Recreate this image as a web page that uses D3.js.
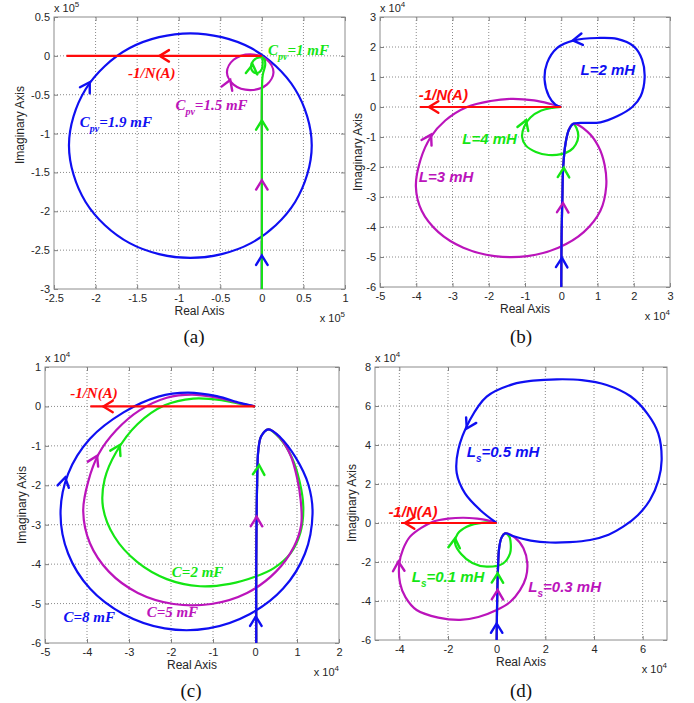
<!DOCTYPE html>
<html>
<head>
<meta charset="utf-8">
<script src="https://cdn.jsdelivr.net/npm/d3@7"></script>
<style>body{margin:0;background:#fff}</style>
</head>
<body>
<svg id="fig" width="694" height="703"></svg>
<script>
	"use strict";
	// colours
	var BLUE = '#0f0ff2', MAG = '#bb14bb', GRN = '#14e614', RED = '#ff0a0a';
	var SERIF = '"Liberation Serif","Times New Roman",serif';
	var SANS = '"Liberation Sans",Arial,sans-serif';

	// ---------- (a) : units of 1e5 ----------
	var aXTicks = [-2.5, -2, -1.5, -1, -0.5, 0, 0.5, 1];
	var aYTicks = [-3, -2.5, -2, -1.5, -1, -0.5, 0, 0.5];
	var aBlueTail = [[0,-3],[0,-2.38]];
	var aBlueLoop = [[0.6,-1.15],[0.4,-0.43],[-0.13,0.1],[-0.86,0.29],[-1.59,0.1],[-2.12,-0.43],[-2.32,-1.15],
		[-2.12,-1.88],[-1.59,-2.41],[-0.86,-2.6],[-0.13,-2.41],[0.4,-1.88]];
	var aMagTail = [[0,-3],[0,-0.44]];
	var aMagLoop = [[0.14,-0.21],[0.06,-0.05],[-0.14,0.02],[-0.34,-0.05],[-0.42,-0.21],[-0.34,-0.37],[-0.14,-0.44],[0.06,-0.37]];
	var aGreen = [[0,-3],[0,-1.5],[0,-0.5],[0.01,-0.25],[0.04,-0.12],[0.03,-0.04],[-0.03,-0.02],[-0.1,-0.06],
		[-0.13,-0.13],[-0.11,-0.2],[-0.05,-0.22],[0,-0.17],[0.01,-0.08],[0,0]];
	var aRed = [[0,0],[-2.35,0]];
	var aBlueArrows = [[0,-2.57,0,-2.75],[-2.07,-0.34,-2.15,-0.48]];
	var aMagArrows = [[0,-1.6,0,-1.78],[-0.38,-0.31,-0.42,-0.42]];
	var aGreenArrows = [[0,-0.83,0,-1.0],[-0.11,-0.11,-0.12,-0.2]];
	var aRedArrows = [[-1.23,0,-1.05,0]];
	var aLabelGreen = ['C','pv','=1 mF',0.075,0.01];
	var aLabelMag = ['C','pv','=1.5 mF',-1.04,-0.7];
	var aLabelBlue = ['C','pv','=1.9 mF',-2.19,-0.92];
	var aLabelRed = ['-1/N(A)','','',-1.61,-0.285];

	// ---------- (b) : units of 1e4 ----------
	var bXTicks = [-5, -4, -3, -2, -1, 0, 1, 2, 3];
	var bYTicks = [-6, -5, -4, -3, -2, -1, 0, 1, 2, 3];
	var bStem = [[0,-6],[0.01,-4.2],[0.03,-3.09],[0.055,-1.98],[0.12,-1.2],[0.21,-0.76],[0.33,-0.56]];
	var bBlueLoop = [[0.53,-0.53],[1.08,-0.51],[1.54,-0.31],[1.96,0],[2.19,0.36],[2.3,0.97],[2.23,1.58],[2.0,2.02],
		[1.54,2.27],[1.0,2.3],[0.35,2.22],[-0.11,1.97],[-0.39,1.47],[-0.46,0.91],[-0.34,0.36],[-0.16,0.08],[0,0]];
	var bMagLoop = [[0.72,-0.82],[1.02,-1.3],[1.2,-1.95],[1.24,-2.65],[1.08,-3.46],[0.62,-4.17],[-0.08,-4.69],
		[-0.93,-4.97],[-1.84,-4.97],[-2.7,-4.69],[-3.39,-4.17],[-3.85,-3.46],[-4.01,-2.65],[-3.88,-1.75],[-3.6,-1.0],
		[-3.2,-0.45],[-2.6,0.0],[-1.95,0.2],[-1.4,0.27],[-0.75,0.22],[-0.29,0.1],[0,0]];
	var bGreenLoop = [[0.42,-0.7],[0.47,-0.98],[0.4,-1.25],[0.25,-1.45],[0,-1.57],[-0.35,-1.6],[-0.7,-1.5],
		[-0.98,-1.28],[-1.08,-1.0],[-1.02,-0.65],[-0.85,-0.35],[-0.55,-0.12],[-0.25,-0.03],[0,0]];
	var bRed = [[0,0],[-3.9,0]];
	var bBlueArrows = [[0.02,-5.03,0.01,-5.4],[0.32,2.22,0.7,2.28]];
	var bMagArrows = [[0.05,-3.2,0.04,-3.55],[-3.59,-0.92,-3.72,-1.2]];
	var bGreenArrows = [[0.07,-2.03,0.06,-2.4],[-0.97,-0.44,-1.05,-0.7]];
	var bRedArrows = [[-3.65,0,-3.2,0]];
	var bLabelBlue = ['L','','=2 mH',0.53,1.07];
	var bLabelGreen = ['L','','=4 mH',-2.73,-1.23];
	var bLabelMag = ['L','','=3 mH',-3.93,-2.49];
	var bLabelRed = ['-1/N(A)','','',-3.93,0.23];

	// ---------- (c) : units of 1e4 ----------
	var cXTicks = [-5, -4, -3, -2, -1, 0, 1, 2];
	var cYTicks = [-6, -5, -4, -3, -2, -1, 0, 1];
	var cStem = [[0.03,-6],[0.03,-4],[0.05,-2],[0.08,-1.1],[0.15,-0.75],[0.32,-0.58]];
	var cBlueLoop = [[0.6,-0.78],[0.97,-1.3],[1.27,-1.98],[1.37,-2.72],[1.19,-3.73],[0.67,-4.62],[-0.13,-5.27],
		[-1.11,-5.63],[-2.15,-5.63],[-3.13,-5.27],[-3.93,-4.62],[-4.45,-3.73],[-4.63,-2.72],[-4.45,-1.71],
		[-3.93,-0.82],[-3.13,-0.15],[-2.3,0.25],[-1.6,0.35],[-0.91,0.26],[-0.36,0.09],[0,0]];
	var cMagLoop = [[0.6,-0.8],[0.85,-1.25],[1.0,-1.8],[1.09,-2.4],[1.1,-3.0],[0.93,-3.55],[0.5,-4.19],[-0.19,-4.73],
		[-1.04,-5.01],[-1.94,-5.01],[-2.79,-4.73],[-3.48,-4.19],[-3.93,-3.47],[-4.09,-2.65],[-3.97,-1.9],
		[-3.72,-1.2],[-3.3,-0.6],[-2.75,-0.1],[-2.1,0.22],[-1.5,0.3],[-0.9,0.22],[-0.35,0.08],[0,0]];
	var cGreenLoop = [[0.6,-0.82],[0.88,-1.3],[1.06,-1.9],[1.15,-2.55],[1.08,-3.2],[0.85,-3.72],[0.45,-4.1],
		[0,-4.32],[-0.6,-4.5],[-1.31,-4.56],[-2.1,-4.38],[-2.8,-3.95],[-3.35,-3.3],[-3.62,-2.55],[-3.58,-1.85],
		[-3.3,-1.15],[-2.8,-0.45],[-2.15,0.03],[-1.47,0.2],[-0.8,0.16],[-0.3,0.05],[0,0]];
	var cRed = [[0,0],[-3.92,0]];
	var cBlueArrows = [[0.02,-5.33,0.02,-5.7],[-4.52,-1.8,-4.6,-2.2]];
	var cMagArrows = [[0.04,-2.8,0.035,-3.15],[-3.76,-1.25,-3.92,-1.6]];
	var cGreenArrows = [[0.1,-1.49,0.08,-1.85],[-3.22,-0.98,-3.38,-1.3]];
	var cRedArrows = [[-3.61,0,-3.2,0]];
	var cLabelRed = ['-1/N(A)','','',-4.4,0.21];
	var cLabelGreen = ['C','','=2 mF',-1.98,-4.32];
	var cLabelMag = ['C','','=5 mF',-2.58,-5.33];
	var cLabelBlue = ['C','','=8 mF',-4.56,-5.48];

	// ---------- (d) : units of 1e4 ----------
	var dXTicks = [-4, -2, 0, 2, 4, 6];
	var dYTicks = [-6, -4, -2, 0, 2, 4, 6, 8];
	var dStem = [[0,-6],[0.02,-4],[0.05,-2.5],[0.1,-1.3],[0.2,-0.75],[0.35,-0.53]];
	var dBlueLoop = [[0.7,-0.68],[1.4,-0.9],[2.2,-1.0],[3.0,-0.98],[3.84,-0.87],[4.6,-0.6],[5.2,-0.19],[5.8,0.4],
		[6.3,1.18],[6.65,2.2],[6.78,3.23],[6.64,4.6],[6.2,5.6],[5.5,6.5],[4.52,7.08],[3.5,7.33],[2.47,7.37],[1.5,7.3],
		[0.68,7.12],[-0.41,6.48],[-1.1,5.28],[-1.58,3.74],[-1.64,2.55],[-1.3,1.52],[-0.68,0.67],[0,0]];
	var dMagLoop = [[0.75,-0.75],[1.1,-1.3],[1.26,-2.07],[1.2,-2.8],[0.96,-3.44],[0.55,-4.05],[0,-4.46],[-0.75,-4.82],
		[-1.5,-4.97],[-2.4,-4.85],[-3.29,-4.46],[-3.75,-3.8],[-3.97,-3.09],[-4.0,-2.07],[-3.85,-1.35],[-3.56,-0.7],
		[-3.1,-0.25],[-2.6,0.07],[-2.0,0.22],[-1.37,0.27],[-0.8,0.22],[-0.41,0.15],[0,0]];
	var dGreenLoop = [[0.52,-0.7],[0.58,-1.1],[0.55,-1.56],[0.27,-2.07],[-0.41,-2.24],[-1.0,-2.05],[-1.45,-1.6],
		[-1.71,-1.04],[-1.6,-0.55],[-1.23,-0.19],[-0.55,0.02],[0,0]];
	var dRed = [[0,0],[-3.93,0]];
	var dBlueArrows = [[0,-5.15,0,-5.8],[-1.23,4.85,-0.95,5.5]];
	var dMagArrows = [[0.04,-3.44,0.03,-4.1],[-4.04,-1.98,-4.02,-2.6]];
	var dGreenArrows = [[0.04,-2.58,0.03,-3.2],[-1.71,-0.79,-1.75,-1.3]];
	var dRedArrows = [[-3.77,0,-3.2,0]];
	var dLabelRed = ['-1/N(A)','','',-4.45,0.32];
	var dLabelBlue = ['L','s','=0.5 mH',-1.23,3.4];
	var dLabelGreen = ['L','s','=0.1 mH',-3.49,-3.01];
	var dLabelMag = ['L','s','=0.3 mH',1.3,-3.52];

	// line entries: [points, colour, closed?]
	var panels = [
		{ box:[54,17,345,289], xd:[-2.5,1], yd:[-3,0.5], xt:aXTicks, yt:aYTicks, exp:'5', font:SERIF,
		  lines:[[aBlueTail,BLUE],[aBlueLoop,BLUE,true],[aMagTail,MAG],[aMagLoop,MAG,true],[aGreen,GRN],[aRed,RED]],
		  arrows:[[aBlueArrows,BLUE],[aMagArrows,MAG],[aGreenArrows,GRN],[aRedArrows,RED]],
		  labels:[[aLabelGreen,GRN],[aLabelMag,MAG],[aLabelBlue,BLUE],[aLabelRed,RED]],
		  cap:'(a)', capX:194, capY:343, yLabX:20, yLabY:125 },
		{ box:[380,17,670,287], xd:[-5,3], yd:[-6,3], xt:bXTicks, yt:bYTicks, exp:'4', font:SANS,
		  lines:[[bStem.concat(bGreenLoop),GRN],[bStem.concat(bMagLoop),MAG],[bStem.concat(bBlueLoop),BLUE],[bRed,RED]],
		  arrows:[[bBlueArrows,BLUE],[bMagArrows,MAG],[bGreenArrows,GRN],[bRedArrows,RED]],
		  labels:[[bLabelBlue,BLUE],[bLabelGreen,GRN],[bLabelMag,MAG],[bLabelRed,RED]],
		  cap:'(b)', capX:521, capY:343, yLabX:358, yLabY:152 },
		{ box:[45,367,339,643], xd:[-5,2], yd:[-6,1], xt:cXTicks, yt:cYTicks, exp:'4', font:SERIF,
		  lines:[[cStem.concat(cGreenLoop),GRN],[cStem.concat(cMagLoop),MAG],[cStem.concat(cBlueLoop),BLUE],[cRed,RED]],
		  arrows:[[cBlueArrows,BLUE],[cMagArrows,MAG],[cGreenArrows,GRN],[cRedArrows,RED]],
		  labels:[[cLabelRed,RED],[cLabelGreen,GRN],[cLabelMag,MAG],[cLabelBlue,BLUE]],
		  cap:'(c)', capX:191, capY:697, yLabX:22, yLabY:505 },
		{ box:[375,367,667,640], xd:[-5,7], yd:[-6,8], xt:dXTicks, yt:dYTicks, exp:'4', font:SANS,
		  lines:[[dStem.concat(dGreenLoop),GRN],[dStem.concat(dMagLoop),MAG],[dStem.concat(dBlueLoop),BLUE],[dRed,RED]],
		  arrows:[[dBlueArrows,BLUE],[dMagArrows,MAG],[dGreenArrows,GRN],[dRedArrows,RED]],
		  labels:[[dLabelRed,RED],[dLabelBlue,BLUE],[dLabelGreen,GRN],[dLabelMag,MAG]],
		  cap:'(d)', capX:521, capY:697, yLabX:352, yLabY:503 }
	];

	var svg = d3.select('#fig');
	svg.append('rect').attr('width',694).attr('height',703).attr('fill','#fff');

	panels.forEach(function(p, i){
		var L = p.box[0], T = p.box[1], R = p.box[2], B = p.box[3];
		var x = d3.scaleLinear().domain(p.xd).range([L, R]);
		var y = d3.scaleLinear().domain(p.yd).range([B, T]);
		var g = svg.append('g');

		// grid (dotted)
		g.selectAll('line.gx').data(p.xt.filter(function(v){ return v > p.xd[0] && v < p.xd[1]; }))
			.enter().append('line').attr('class','gx')
			.attr('x1', function(d){ return x(d); }).attr('x2', function(d){ return x(d); })
			.attr('y1', T).attr('y2', B);
		g.selectAll('line.gy').data(p.yt.filter(function(v){ return v > p.yd[0] && v < p.yd[1]; }))
			.enter().append('line').attr('class','gy')
			.attr('y1', function(d){ return y(d); }).attr('y2', function(d){ return y(d); })
			.attr('x1', L).attr('x2', R);
		g.selectAll('line.gx, line.gy').attr('stroke','#8a8a8a').attr('stroke-width',1)
			.attr('stroke-dasharray','1,2');

		// axes, ticks inside the box
		var fmt = function(d){ return String(d); };
		var ax = [
			g.append('g').attr('transform','translate(0,'+B+')')
				.call(d3.axisBottom(x).tickValues(p.xt).tickFormat(fmt).tickSizeInner(-4).tickSizeOuter(0).tickPadding(5)),
			g.append('g').attr('transform','translate('+L+',0)')
				.call(d3.axisLeft(y).tickValues(p.yt).tickFormat(fmt).tickSizeInner(-4).tickSizeOuter(0).tickPadding(4)),
			g.append('g').attr('transform','translate(0,'+T+')')
				.call(d3.axisTop(x).tickValues(p.xt).tickFormat('').tickSizeInner(-4).tickSizeOuter(0)),
			g.append('g').attr('transform','translate('+R+',0)')
				.call(d3.axisRight(y).tickValues(p.yt).tickFormat('').tickSizeInner(-4).tickSizeOuter(0))
		];
		ax.forEach(function(a){
			a.select('.domain').remove();
			a.selectAll('line').attr('stroke','#808080');
			a.selectAll('text').attr('font-family',SANS).attr('font-size',11).attr('fill','#262626');
		});
		g.append('rect').attr('x',L).attr('y',T).attr('width',R-L).attr('height',B-T)
			.attr('fill','none').attr('stroke','#8c8c8c').attr('stroke-width',1);

		// clip for curves
		var cid = 'clip' + i;
		svg.append('clipPath').attr('id',cid).append('rect')
			.attr('x',L).attr('y',T).attr('width',R-L).attr('height',B-T);

		var line = d3.line()
			.x(function(d){ return x(d[0]); })
			.y(function(d){ return y(d[1]); })
			.curve(d3.curveCatmullRom.alpha(0.5));
		var loop = d3.line()
			.x(function(d){ return x(d[0]); })
			.y(function(d){ return y(d[1]); })
			.curve(d3.curveCatmullRomClosed.alpha(0.5));

		var cg = g.append('g').attr('clip-path','url(#'+cid+')');
		p.lines.forEach(function(s){
			cg.append('path').datum(s[0]).attr('d', s[2] ? loop : line)
				.attr('fill','none').attr('stroke', s[1]).attr('stroke-width', 2.2)
				.attr('stroke-linejoin','round');
		});

		// open chevron arrowheads
		function chevron(a){
			var tx = x(a[0]), ty = y(a[1]), bx = x(a[2]), by = y(a[3]);
			var ang = Math.atan2(by - ty, bx - tx), len = 11, h = 0.55;
			return 'M' + (tx + len*Math.cos(ang+h)) + ',' + (ty + len*Math.sin(ang+h)) +
				'L' + tx + ',' + ty +
				'L' + (tx + len*Math.cos(ang-h)) + ',' + (ty + len*Math.sin(ang-h));
		}
		p.arrows.forEach(function(s){
			g.selectAll(null).data(s[0]).enter().append('path')
				.attr('d', chevron).attr('fill','none').attr('stroke', s[1])
				.attr('stroke-width', 2.4).attr('stroke-linecap','round').attr('stroke-linejoin','miter');
		});

		// curve labels
		p.labels.forEach(function(s){
			var l = s[0];
			var t = g.append('text').attr('x', x(l[3])).attr('y', y(l[4]))
				.attr('fill', s[1]).attr('font-family', p.font).attr('font-size', 15)
				.attr('font-weight','bold').attr('font-style','italic');
			t.append('tspan').text(l[0]);
			if (l[1]) {
				t.append('tspan').attr('font-size', 10).attr('dy', 5).text(l[1]);
				t.append('tspan').attr('dy', -5).text(l[2]);
			} else if (l[2]) {
				t.append('tspan').text(l[2]);
			}
		});

		// axis titles
		g.append('text').attr('x', (L+R)/2).attr('y', B+26).attr('text-anchor','middle')
			.attr('font-family',SANS).attr('font-size',12).attr('fill','#262626').text('Real Axis');
		g.append('text').attr('transform','translate('+p.yLabX+','+p.yLabY+') rotate(-90)')
			.attr('text-anchor','middle').attr('dy','0.35em')
			.attr('font-family',SANS).attr('font-size',12).attr('fill','#262626').text('Imaginary Axis');

		// exponent marks
		var e1 = g.append('text').attr('x', L).attr('y', T-5)
			.attr('font-family',SANS).attr('font-size',11).attr('fill','#262626');
		e1.append('tspan').text('x 10');
		e1.append('tspan').attr('font-size',8).attr('dy',-5).text(p.exp);
		var e2 = g.append('text').attr('x', R).attr('y', B+33).attr('text-anchor','end')
			.attr('font-family',SANS).attr('font-size',11).attr('fill','#262626');
		e2.append('tspan').text('x 10');
		e2.append('tspan').attr('font-size',8).attr('dy',-5).text(p.exp);

		// caption
		svg.append('text').attr('x', p.capX).attr('y', p.capY).attr('text-anchor','middle')
			.attr('font-family',SERIF).attr('font-size',19).attr('fill','#111').text(p.cap);
	});
</script>
</body>
</html>
